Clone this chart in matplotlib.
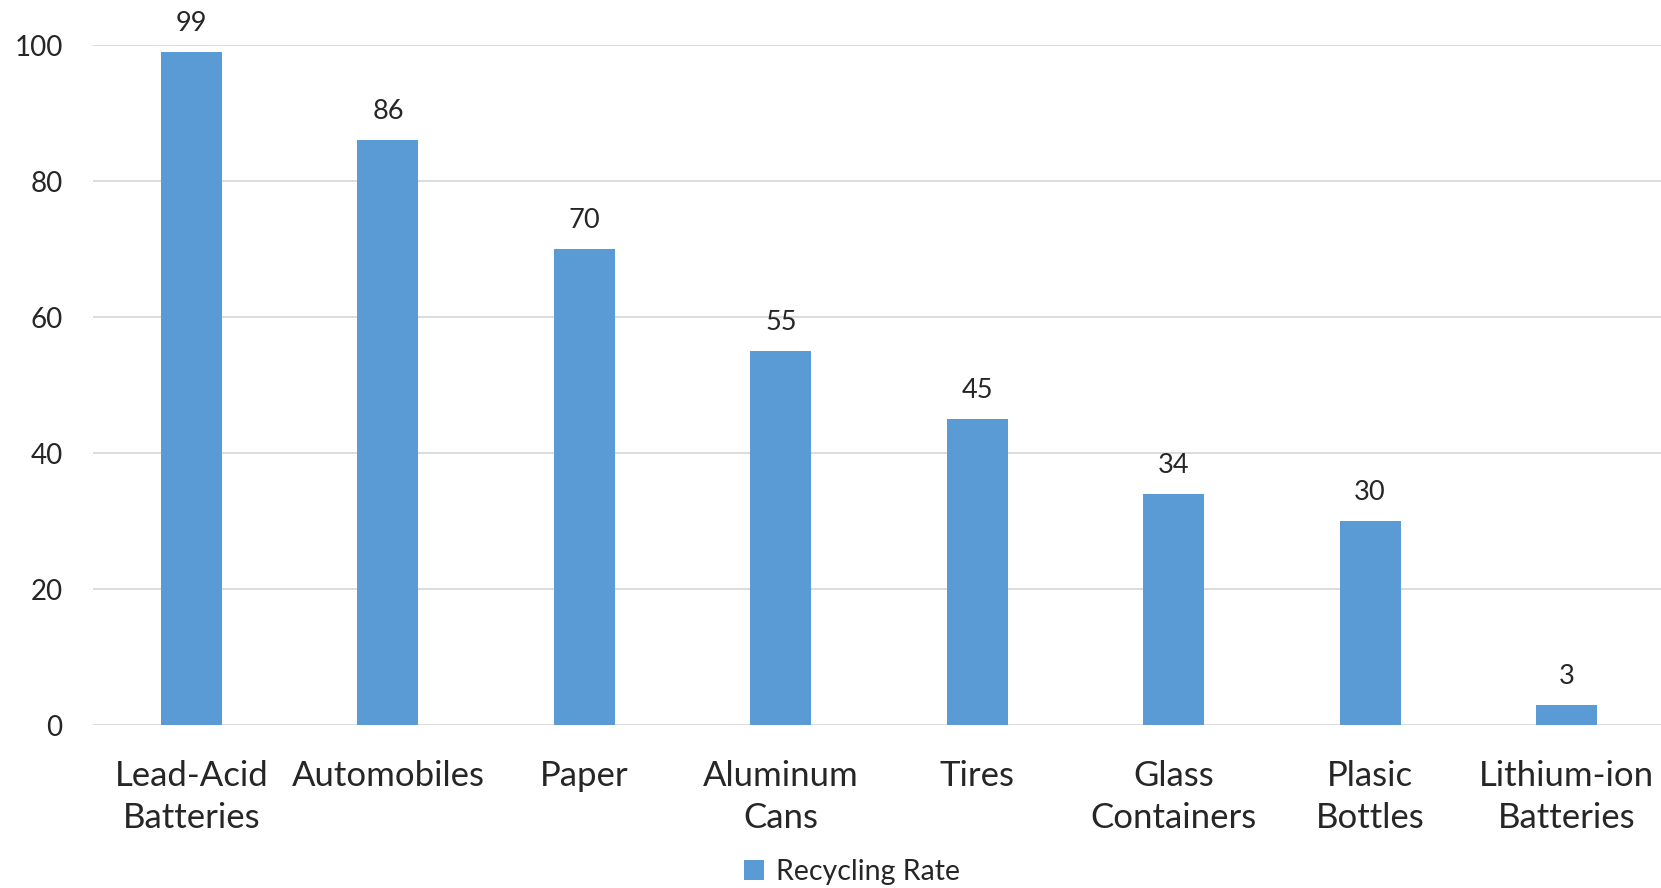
import matplotlib.pyplot as plt

# recycling rates by product (%)
categories = ["Lead-Acid\nBatteries", "Automobiles", "Paper", "Aluminum\nCans", "Tires",
              "Glass\nContainers", "Plasic\nBottles", "Lithium-ion\nBatteries"]
rates = [99, 86, 70, 55, 45, 34, 30, 3]
yticks = [0, 20, 40, 60, 80, 100]

bar_color = "#5B9BD5"
grid_color = "#D9D9D9"
text_color = "#262626"

plt.rcParams["font.family"] = ["Lato", "DejaVu Sans"]

fig = plt.figure(figsize=(16.61, 8.88), dpi=100)
ax = fig.add_axes([93.3 / 1661, 163 / 888, 1571.4 / 1661, 680 / 888])

x = range(len(categories))
bars = ax.bar(x, rates, width=0.31, color=bar_color, zorder=3, label="Recycling Rate")

for xi, v in zip(x, rates):
    ax.annotate(str(v), (xi, v), xytext=(0, 15), textcoords="offset points",
                ha="center", va="baseline", fontsize=19.5, color=text_color,
                annotation_clip=False)

ax.set_xlim(-0.5, len(categories) - 0.5)
ax.set_ylim(0, 100)
ax.set_yticks(yticks)
ax.set_xticks(list(x))
ax.set_xticklabels(categories, fontsize=25, color=text_color, linespacing=1.4)
ax.tick_params(axis="y", labelsize=20, labelcolor=text_color, length=0, pad=22)
ax.tick_params(axis="x", length=0, pad=25)

ax.grid(axis="y", color=grid_color, linewidth=1.3, zorder=0)
for side in ["top", "right", "left", "bottom"]:
    ax.spines[side].set_visible(False)

fig.legend(handles=[bars], labels=["Recycling Rate"], loc="center",
           bbox_to_anchor=(852 / 1661, 1 - 872 / 888), frameon=False,
           fontsize=20.5, handlelength=0.7, handleheight=0.7, handletextpad=0.4,
           labelcolor=text_color)

fig.savefig("out.png", dpi=100)
